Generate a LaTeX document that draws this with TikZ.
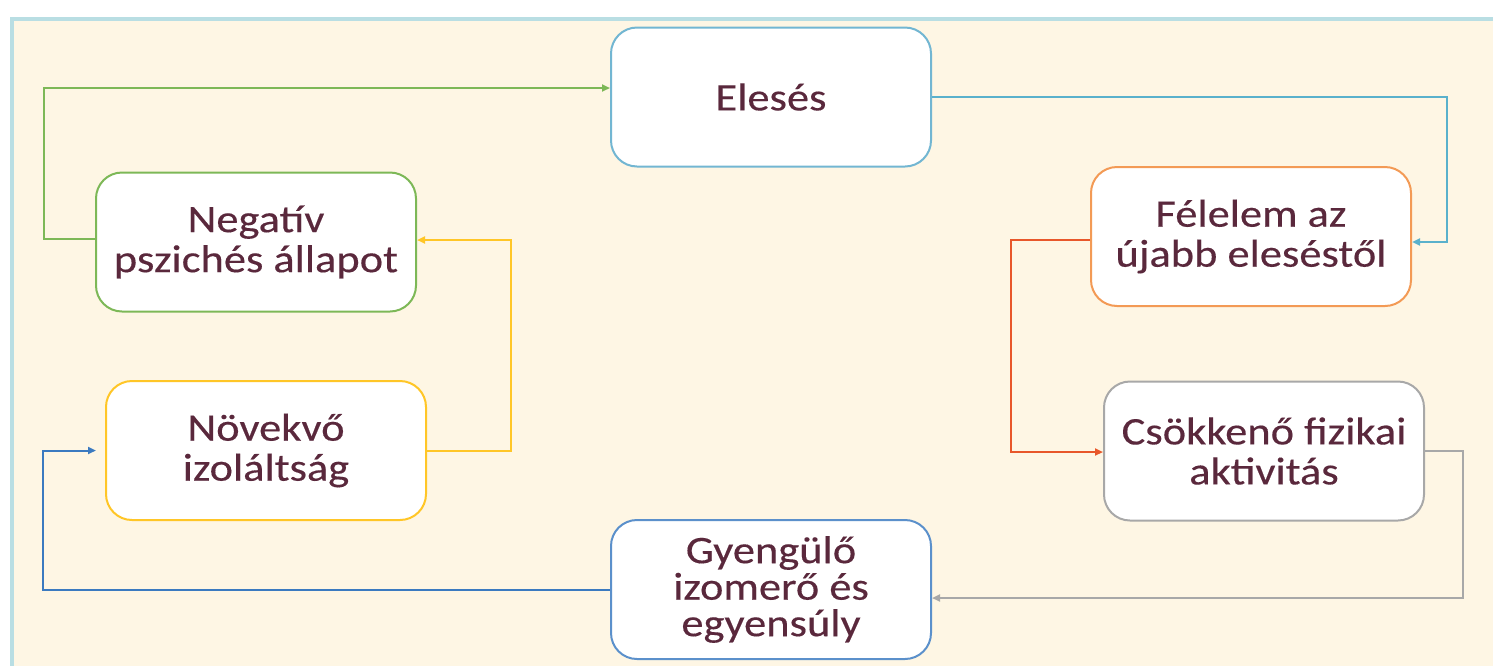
\documentclass[tikz,border=0pt]{standalone}
\usepackage{fontspec}
\setmainfont{Carlito}[FakeStretch=1.14, FakeBold=0.3]
\usetikzlibrary{arrows.meta}
\definecolor{bgcream}{HTML}{FEF6E4}
\definecolor{frameblue}{HTML}{B9DEE3}
\definecolor{txt}{HTML}{5A283C}
\definecolor{cEles}{HTML}{72B6D2}
\definecolor{cEla}{HTML}{5AB1CC}
\definecolor{cNeg}{HTML}{7DB857}
\definecolor{cYel}{HTML}{FFC627}
\definecolor{cFel}{HTML}{F39A55}
\definecolor{cRed}{HTML}{E8572A}
\definecolor{cGray}{HTML}{A8A8A8}
\definecolor{cGyen}{HTML}{5B90CB}
\definecolor{cDb}{HTML}{3B7AC0}
\tikzset{
  box/.style={draw, line width=2pt, fill=white, rounded corners=26pt,
    minimum width=320pt, minimum height=139pt, align=center,
    text=txt, font=\fontsize{39pt}{40pt}\selectfont, inner sep=0pt},
  conn/.style={line width=2pt, -{Triangle[length=8pt,width=7pt]}}
}
\begin{document}
\begin{tikzpicture}[x=1pt,y=-1pt]
\useasboundingbox (0,0) rectangle (1493,665);
\fill[white] (0,0) rectangle (1493,665);
\begin{scope}
\clip (0,0) rectangle (1493,665);
\draw[frameblue, line width=4pt, fill=bgcream] (12,19) rectangle (1510,690);
\end{scope}

\node[box, draw=cEles] (eles) at (771,97) {Elesés};
\node[box, draw=cNeg] (neg) at (256,242) {Negatív\\pszichés állapot};
\node[box, draw=cFel] (fel) at (1251,236.5) {Félelem az\\újabb eleséstől};
\node[box, draw=cYel] (grow) at (266,450.5) {Növekvő\\izoláltság};
\node[box, draw=cGray] (csok) at (1264,451) {Csökkenő fizikai\\aktivitás};
\node[box, draw=cGyen, font=\fontsize{39pt}{36.5pt}\selectfont] (gyen) at (771,589.5) {Gyengülő\\izomerő és\\egyensúly};

\draw[conn, cNeg] ([yshift=3pt]neg.west) -- ++(-51,0) |- ([yshift=9pt]eles.west);
\draw[conn, cEla] (eles.east) -- ++(515,0) |- ([yshift=-5.5pt]fel.east);
\draw[conn, cRed] ([yshift=-3.5pt]fel.west) -- ++(-79,0) |- ([yshift=-1pt]csok.west);
\draw[conn, cGray] (csok.east) -- ++(38,0) |- ([yshift=-8.5pt]gyen.east);
\draw[conn, cDb] (gyen.west) -- ++(-567,0) |- ([xshift=-9pt]grow.west);
\draw[conn, cYel] (grow.east) -- ++(84,0) |- ([yshift=2pt]neg.east);
\end{tikzpicture}
\end{document}
